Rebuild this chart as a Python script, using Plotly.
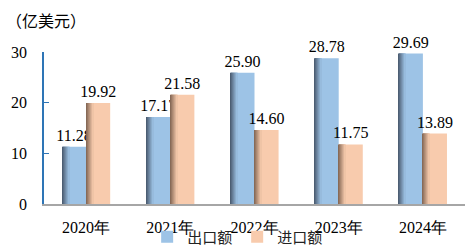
import plotly.graph_objects as go

categories = ["2020年", "2021年", "2022年", "2023年", "2024年"]
export_vals = [11.28, 17.17, 25.90, 28.78, 29.69]
import_vals = [19.92, 21.58, 14.60, 11.75, 13.89]
series_names = ["出口额", "进口额"]
y_ticks = [0, 10, 20, 30]

serif = "Liberation Serif"
cjk = "Noto Sans CJK SC"

bw = 0.286
px = 1 / 84.0

def lerp(c1, c2, t):
    a = [int(c1[i:i+2], 16) for i in (1, 3, 5)]
    b = [int(c2[i:i+2], 16) for i in (1, 3, 5)]
    return "#%02x%02x%02x" % tuple(round(a[j] + (b[j] - a[j]) * t) for j in range(3))

fig = go.Figure()
x = list(range(len(categories)))

specs = [
    (export_vals, series_names[0], "#9DC3E6", "#46566A", -bw),
    (import_vals, series_names[1], "#F8CBAD", "#7E6250", 0.0),
]
for vals, name, main, dark, off in specs:
    fig.add_trace(go.Bar(
        x=x, y=vals, name=name, width=bw, offset=off,
        marker=dict(color=main, line=dict(width=0)),
        text=[f"{v:.2f}" for v in vals], textposition="outside",
        constraintext="none",
        textfont=dict(family=serif, size=16, color="#000"),
        cliponaxis=False,
    ))
    n = 7
    for k in range(n):
        fig.add_trace(go.Bar(
            x=x, y=vals, width=px * 1.05, offset=off + k * px,
            marker=dict(color=lerp(dark, main, (k + 0.5) / n), line=dict(width=0)),
            showlegend=False, hoverinfo="skip",
        ))

fig.update_layout(
    width=469, height=246,
    margin=dict(l=44, r=4, t=52, b=42, autoexpand=False),
    barmode="overlay",
    plot_bgcolor="white", paper_bgcolor="white",
    showlegend=True,
    legend=dict(orientation="h", x=0.46, xanchor="center", y=-33/152, yanchor="middle",
                font=dict(family=cjk, size=15, color="#222"),
                itemwidth=30, tracegroupgap=0, bgcolor="rgba(0,0,0,0)"),
    xaxis=dict(tickmode="array", tickvals=x, ticktext=categories,
               range=[-0.5, len(categories) - 0.5],
               showline=True, linecolor="#A6A6A6", linewidth=1.5,
               ticks="", tickfont=dict(family=serif, size=16, color="#000"),
               ticklabelstandoff=8,
               showgrid=False, zeroline=False),
    yaxis=dict(range=[0, 30], tickvals=y_ticks, showline=True, linecolor="#2E75B6",
               linewidth=1.5, ticks="inside", ticklen=5, tickcolor="#2E75B6",
               tickfont=dict(family=serif, size=16, color="#000"),
               ticklabelstandoff=12,
               showgrid=False, zeroline=False),
    annotations=[dict(text="（亿美元）", xref="paper", yref="paper", x=-40/421, y=(204-20)/152,
                      xanchor="left", yanchor="middle", showarrow=False,
                      font=dict(family=cjk, size=16, color="#000"))],
)

fig.write_html("out.html")
